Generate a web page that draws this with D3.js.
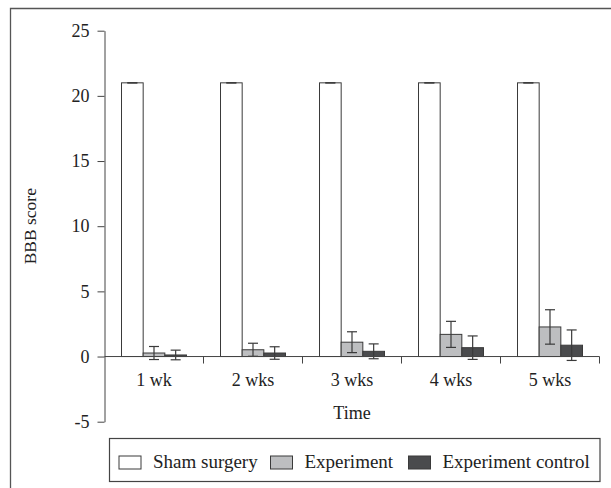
<!DOCTYPE html>
<html>
<head>
<meta charset="utf-8">
<script src="https://cdn.jsdelivr.net/npm/d3@7"></script>
<style>
  body { margin: 0; background: #fff; overflow: hidden; }
  svg text { font-family: "Liberation Serif", "DejaVu Serif", serif; }
</style>
</head>
<body>
<div id="chart"></div>
<script>
// weken na operatie
const weeks = ["1 wk", "2 wks", "3 wks", "4 wks", "5 wks"];
const groups = ["Sham surgery", "Experiment", "Experiment control"];

// gemiddelde BBB score per groep
const shamMean = [21, 21, 21, 21, 21];
const expMean = [0.27, 0.52, 1.1, 1.7, 2.27];
const ctrlMean = [0.12, 0.27, 0.4, 0.68, 0.87];

// standaarddeviatie
const shamSd = [0, 0, 0, 0, 0];
const expSd = [0.5, 0.5, 0.8, 1.0, 1.32];
const ctrlSd = [0.37, 0.48, 0.57, 0.9, 1.17];

const yTicks = [-5, 0, 5, 10, 15, 20, 25];

const width = 611;
const height = 488;

const colors = {
  "Sham surgery": "#ffffff",
  "Experiment": "#bdbec0",
  "Experiment control": "#4a4b4d"
};

const means = [shamMean, expMean, ctrlMean];
const sds = [shamSd, expSd, ctrlSd];

const rows = [];
weeks.forEach((w, i) => {
  groups.forEach((g, j) => {
    rows.push({week: w, group: g, value: means[j][i], sd: sds[j][i]});
  });
});

const svg = d3.select("#chart")
  .append("svg")
  .attr("width", width)
  .attr("height", height)
  .style("display", "block");

// kader: alleen links en boven zichtbaar
svg.append("path")
  .attr("d", `M10.5,${height}V8.5H${width}`)
  .attr("fill", "none")
  .attr("stroke", "#555")
  .attr("stroke-width", 1.3);

const x0 = d3.scaleBand()
  .domain(weeks)
  .range([104.5, 599.5])
  .padding(0);

const x1 = d3.scaleBand()
  .domain(groups)
  .range([0, x0.bandwidth()])
  .paddingInner(0)
  .paddingOuter(0.785);

const y = d3.scaleLinear()
  .domain([-5, 25])
  .range([421.7, 30.7]);

// y-as
const yAxis = svg.append("g")
  .attr("transform", `translate(${x0.range()[0]},0)`)
  .call(d3.axisLeft(y).tickValues(yTicks).tickFormat(d => String(d))
    .tickSize(7).tickSizeOuter(0).tickPadding(8));
yAxis.attr("font-family", null).attr("font-size", null);
yAxis.select(".domain").attr("stroke", "#444");
yAxis.selectAll(".tick line").attr("stroke", "#444");
yAxis.selectAll(".tick text")
  .style("font-size", "18px")
  .attr("fill", "#222");

// balken
svg.append("g")
  .selectAll("rect")
  .data(rows)
  .join("rect")
  .attr("x", d => x0(d.week) + x1(d.group))
  .attr("y", d => y(d.value))
  .attr("width", x1.bandwidth())
  .attr("height", d => y(0) - y(d.value))
  .attr("fill", d => colors[d.group])
  .attr("stroke", "#3a3a3a")
  .attr("stroke-width", 1);

// foutbalken
const capW = 10;
const err = svg.append("g")
  .attr("stroke", "#3a3a3a")
  .attr("stroke-width", 1.2)
  .selectAll("g")
  .data(rows)
  .join("g")
  .attr("transform", d => `translate(${x0(d.week) + x1(d.group) + x1.bandwidth() / 2},0)`);
err.append("line")
  .attr("y1", d => y(d.value + d.sd))
  .attr("y2", d => y(d.value - d.sd));
err.append("line")
  .attr("x1", -capW / 2).attr("x2", capW / 2)
  .attr("y1", d => y(d.value + d.sd))
  .attr("y2", d => y(d.value + d.sd));
err.append("line")
  .attr("x1", -capW / 2).attr("x2", capW / 2)
  .attr("y1", d => y(d.value - d.sd))
  .attr("y2", d => y(d.value - d.sd));

// x-as op nul
const xg = svg.append("g").attr("transform", `translate(0,${y(0)})`);
xg.append("line")
  .attr("x1", x0.range()[0])
  .attr("x2", x0.range()[1])
  .attr("stroke", "#444");
xg.selectAll("line.tick")
  .data(weeks)
  .join("line")
  .attr("class", "tick")
  .attr("x1", d => x0(d) + x0.step())
  .attr("x2", d => x0(d) + x0.step())
  .attr("y1", 0)
  .attr("y2", 7)
  .attr("stroke", "#444");
xg.selectAll("text")
  .data(weeks)
  .join("text")
  .attr("x", d => x0(d) + x0.bandwidth() / 2)
  .attr("y", 29)
  .attr("text-anchor", "middle")
  .style("font-size", "18px")
  .attr("fill", "#222")
  .text(d => d);

// as titels
svg.append("text")
  .attr("x", (x0.range()[0] + x0.range()[1]) / 2)
  .attr("y", 419)
  .attr("text-anchor", "middle")
  .style("font-size", "18px")
  .attr("fill", "#222")
  .text("Time");

svg.append("text")
  .attr("transform", `translate(36,${(y(25) + y(-5)) / 2}) rotate(-90)`)
  .attr("text-anchor", "middle")
  .style("font-size", "17.5px")
  .attr("fill", "#222")
  .text("BBB score");

// legenda
const legend = svg.append("g");
legend.append("rect")
  .attr("x", 109.5)
  .attr("y", 438.5)
  .attr("width", 490.5)
  .attr("height", 43)
  .attr("fill", "#fff")
  .attr("stroke", "#444")
  .attr("stroke-width", 1.2);

const legendX = [119, 270.5, 408.5];
const item = legend.selectAll("g.item")
  .data(groups)
  .join("g")
  .attr("class", "item")
  .attr("transform", (d, i) => `translate(${legendX[i]},456)`);
item.append("rect")
  .attr("width", 22)
  .attr("height", 13)
  .attr("fill", d => colors[d])
  .attr("stroke", "#3a3a3a");
item.append("text")
  .attr("x", 34)
  .attr("y", 11.5)
  .style("font-size", "19px")
  .attr("fill", "#222")
  .text(d => d);
</script>
</body>
</html>
